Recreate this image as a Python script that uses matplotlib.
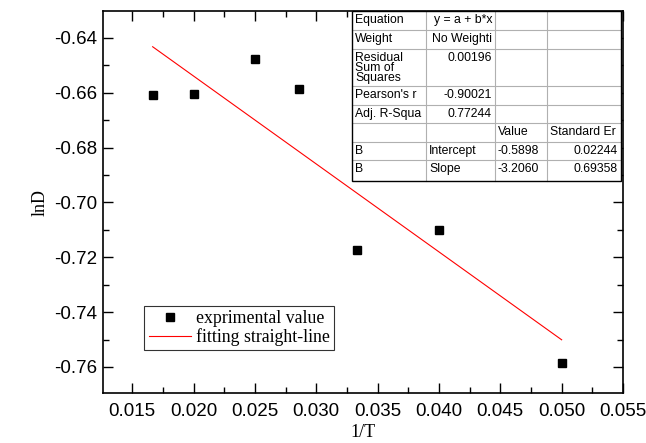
import matplotlib.pyplot as plt
from matplotlib.ticker import MultipleLocator
from matplotlib.lines import Line2D

# measured points: 1/T and lnD
inv_T = [1 / 60, 1 / 50, 1 / 40, 1 / 35, 1 / 30, 1 / 25, 1 / 20]
lnD = [-0.6610, -0.6605, -0.6478, -0.6585, -0.7175, -0.7102, -0.7585]

# linear fit y = a + b*x
intercept = -0.5898
slope = -3.2060

# fit report table
table_rows = [
    ["Equation", "y = a + b*x", "", ""],
    ["Weight", "No Weighti", "", ""],
    ["Residual\nSum of\nSquares", "0.00196", "", ""],
    ["Pearson's r", "-0.90021", "", ""],
    ["Adj. R-Squa", "0.77244", "", ""],
    ["", "", "Value", "Standard Er"],
    ["B", "Intercept", "-0.5898", "0.02244"],
    ["B", "Slope", "-3.2060", "0.69358"],
]
# alignment per cell: 'l' left, 'r' right
table_align = [
    ["l", "r", "l", "l"],
    ["l", "r", "l", "l"],
    ["l", "r", "l", "l"],
    ["l", "r", "l", "l"],
    ["l", "r", "l", "l"],
    ["l", "l", "l", "l"],
    ["l", "l", "l", "r"],
    ["l", "l", "l", "r"],
]

W, H = 646, 443
fig = plt.figure(figsize=(W / 100, H / 100), dpi=100)
ax = fig.add_axes([103 / W, (H - 393) / H, 520 / W, 382 / H])

sans = ["Liberation Sans", "DejaVu Sans"]
serif = ["Liberation Serif", "DejaVu Serif"]

ax.plot(inv_T, lnD, "s", color="black", markersize=6.3, linestyle="none")
fit_x = [inv_T[0], inv_T[-1]]
fit_y = [intercept + slope * x for x in fit_x]
ax.plot(fit_x, fit_y, color="red", lw=0.8)

ax.set_xlim(0.01262, 0.055)
ax.set_ylim(-0.7695, -0.6302)
ax.xaxis.set_major_locator(MultipleLocator(0.005))
ax.xaxis.set_minor_locator(MultipleLocator(0.0025))
ax.yaxis.set_major_locator(MultipleLocator(0.02))
ax.yaxis.set_minor_locator(MultipleLocator(0.01))
ax.xaxis.set_major_formatter(plt.FormatStrFormatter("%.3f"))
ax.yaxis.set_major_formatter(plt.FormatStrFormatter("%.2f"))
ax.tick_params(which="both", direction="in", top=True, right=True, width=1)
ax.tick_params(which="major", length=7, labelsize=13.5)
ax.tick_params(axis="y", which="major", pad=4)
ax.tick_params(axis="x", which="major", pad=7)
ax.tick_params(which="minor", length=4)
for lab in ax.get_xticklabels() + ax.get_yticklabels():
    lab.set_family(sans)
for sp in ax.spines.values():
    sp.set_linewidth(1.2)

ax.set_xlabel("1/T", family=serif, fontsize=13, labelpad=3)
ax.set_ylabel("lnD", family=serif, fontsize=13, labelpad=4)

# legend
handles = [
    Line2D([], [], marker="s", color="black", linestyle="none", markersize=6.3),
    Line2D([], [], color="red", lw=0.8),
]
leg = ax.legend(handles, ["exprimental value", "fitting straight-line"],
                loc="lower left", bbox_to_anchor=(0.079, 0.112),
                prop={"family": serif, "size": 12.8}, frameon=True,
                fancybox=False, borderpad=0.25, handlelength=2.4,
                handletextpad=0.25, labelspacing=0.05, borderaxespad=0)
leg.get_frame().set_edgecolor("black")
leg.get_frame().set_linewidth(0.8)

# fit report table drawn in figure pixel space
col_x = [352, 426, 495, 547, 621]
row_y = [11, 30, 49, 86, 105, 123, 142, 160, 181]


def fx(px):
    return px / W


def fy(py):
    return (H - py) / H


tr = fig.transFigure
fig.patches.append(plt.Rectangle((fx(col_x[0]), fy(row_y[-1])),
                                 fx(col_x[-1]) - fx(col_x[0]),
                                 fy(row_y[0]) - fy(row_y[-1]),
                                 transform=tr, facecolor="white",
                                 edgecolor="none", zorder=5))
for x in col_x[1:-1]:
    fig.lines.append(Line2D([fx(x), fx(x)], [fy(row_y[0]), fy(row_y[-1])],
                            transform=tr, color="#b0b0b0", lw=0.8, zorder=6))
for y in row_y[1:-1]:
    fig.lines.append(Line2D([fx(col_x[0]), fx(col_x[-1])], [fy(y), fy(y)],
                            transform=tr, color="#b0b0b0", lw=0.8, zorder=6))
fig.patches.append(plt.Rectangle((fx(col_x[0]), fy(row_y[-1])),
                                 fx(col_x[-1]) - fx(col_x[0]),
                                 fy(row_y[0]) - fy(row_y[-1]),
                                 transform=tr, facecolor="none",
                                 edgecolor="black", lw=1.0, zorder=7))
for i, row in enumerate(table_rows):
    for j, txt in enumerate(row):
        if not txt:
            continue
        top = row_y[i] + 3
        if table_align[i][j] == "l":
            px, ha = col_x[j] + 3, "left"
        else:
            px, ha = col_x[j + 1] - 3, "right"
        fig.text(fx(px), fy(top), txt, transform=tr, ha=ha, va="top",
                 family=sans, fontsize=8.8, linespacing=0.8, zorder=8)

fig.savefig("out.png", dpi=100)
